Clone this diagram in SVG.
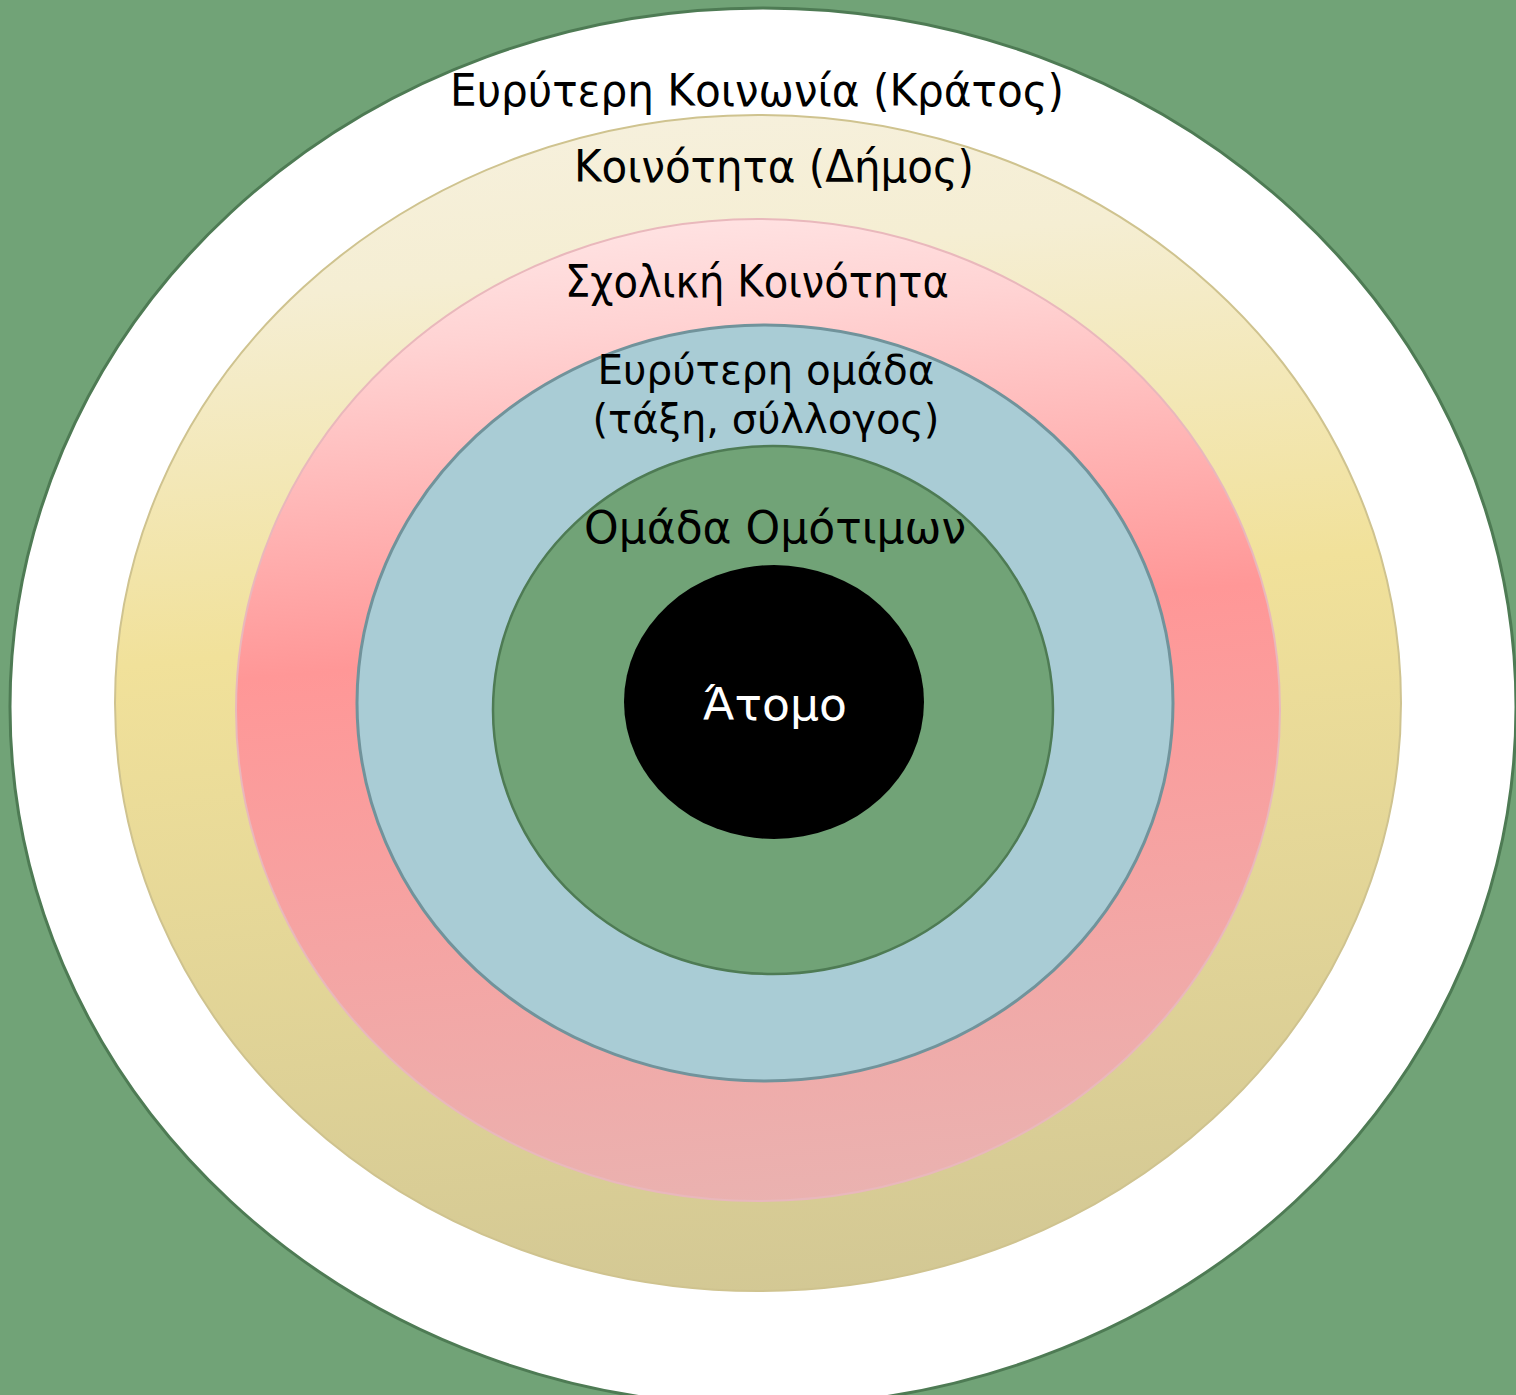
<svg xmlns="http://www.w3.org/2000/svg" width="1516" height="1395" viewBox="0 0 1516 1395">
<defs>
<linearGradient id="gy" x1="0.45" y1="0" x2="0.55" y2="1">
<stop offset="0" stop-color="#F6F0DC"/>
<stop offset="0.12" stop-color="#F5EED3"/>
<stop offset="0.42" stop-color="#F1E19A"/>
<stop offset="1" stop-color="#D3C894"/>
</linearGradient>
<linearGradient id="gp" x1="0.45" y1="0" x2="0.55" y2="1">
<stop offset="0" stop-color="#FFE2E2"/>
<stop offset="0.1" stop-color="#FFD3D3"/>
<stop offset="0.42" stop-color="#FF9797"/>
<stop offset="1" stop-color="#EAB2B0"/>
</linearGradient>
<style>
text{font-family:"DejaVu Sans","Liberation Sans",sans-serif;font-size:45px;fill:#000;text-anchor:middle}
.s{font-size:41px}
.w{fill:#fff}
</style>
</defs>
<rect x="0" y="0" width="1516" height="1395" fill="#71A377"/>
<g id="n-society">
<ellipse cx="763" cy="707" rx="753" ry="699" fill="#fff" stroke="#4E7B54" stroke-width="3"/>
<text x="757" y="106" textLength="614" lengthAdjust="spacingAndGlyphs">Ευρύτερη Κοινωνία (Κράτος)</text>
</g>
<g id="n-community">
<ellipse cx="758" cy="703" rx="643" ry="588" fill="url(#gy)" stroke="#CFC38F" stroke-width="2"/>
<text x="774" y="182" textLength="400" lengthAdjust="spacingAndGlyphs">Κοινότητα (Δήμος)</text>
</g>
<g id="n-school">
<ellipse cx="758" cy="710" rx="522" ry="491" fill="url(#gp)" stroke="#E9B8BC" stroke-width="2"/>
<text x="757" y="297" textLength="384" lengthAdjust="spacingAndGlyphs">Σχολική Κοινότητα</text>
</g>
<g id="n-group">
<ellipse cx="765" cy="703" rx="408" ry="378" fill="#A9CCD5" stroke="#71939B" stroke-width="3"/>
<text class="s" x="766" y="384" textLength="337" lengthAdjust="spacingAndGlyphs">Ευρύτερη ομάδα</text>
<text class="s" x="766" y="433" textLength="347" lengthAdjust="spacingAndGlyphs">(τάξη, σύλλογος)</text>
</g>
<g id="n-peers">
<ellipse cx="773" cy="710" rx="280" ry="264" fill="#71A377" stroke="#4E7B54" stroke-width="2.5"/>
<text x="775" y="543" textLength="382" lengthAdjust="spacingAndGlyphs">Ομάδα Ομότιμων</text>
</g>
<g id="n-individual">
<ellipse cx="774" cy="702" rx="150" ry="137" fill="#000"/>
<text class="w" x="775" y="720" textLength="144" lengthAdjust="spacingAndGlyphs">Άτομο</text>
</g>
<g id="connectors"/>
</svg>
